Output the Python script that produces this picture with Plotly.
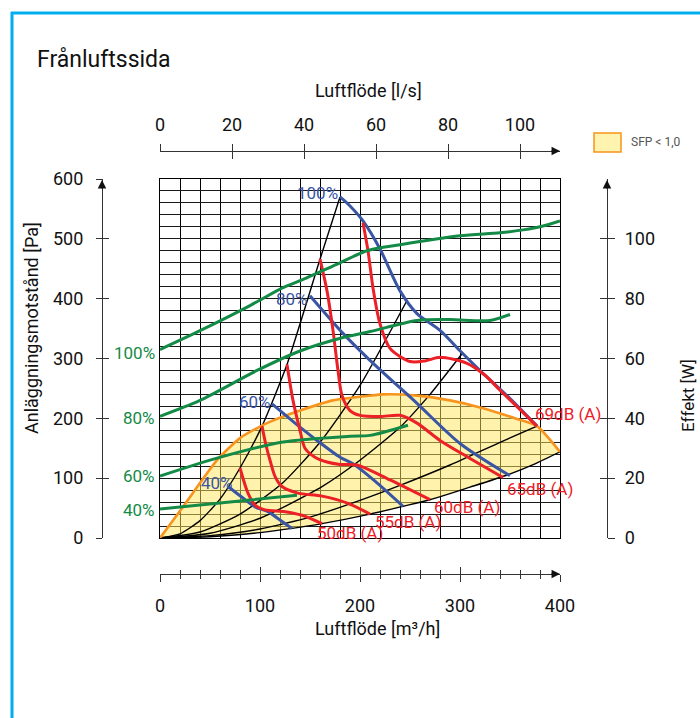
import plotly.graph_objects as go

W, H = 700, 718

# ---------------- data (x: Luftflöde m³/h, y: Pa, green in W) ----------------
# black system curves
sys_a_x = [0, 20, 40, 60, 80, 102, 127, 160, 180]
sys_a_y = [0, 7, 29, 65, 117, 187, 290, 466, 570]
sys_b_x = [0, 40, 80, 122, 160, 200, 247]
sys_b_y = [0, 10, 40, 91, 160, 255, 397]
sys_c_x = [0, 50, 100, 162, 200, 240, 270, 303]
sys_c_y = [0, 8, 33, 86, 130, 185, 240, 310]
sys_d_x = [0, 50, 100, 150, 195, 240, 290, 340, 377]
sys_d_y = [0, 4, 15, 35, 60, 88, 122, 160, 187]
sys_e_x = [0, 50, 100, 132, 162, 210, 243, 270, 310, 345, 375, 400]
sys_e_y = [0, 2, 9, 16, 24, 40, 53, 64, 85, 104, 124, 144]

# SFP < 1,0 upper boundary (orange)
sfp_x = [0, 23, 57, 80, 107, 140, 173, 210, 223, 257, 290, 323, 357, 377, 400]
sfp_y = [0, 52, 130, 167, 192, 213, 230, 238, 240, 238, 230, 217, 199, 187, 144]

# fan speed curves (blue, Pa)
fan100_x = [180, 190, 203, 220, 240, 257, 280, 300, 320, 350, 377]
fan100_y = [570, 555, 530, 483, 413, 375, 347, 313, 280, 233, 187]
fan80_x = [150, 183, 210, 257, 300, 350]
fan80_y = [405, 342, 297, 225, 158, 104]
fan60_x = [112, 135, 157, 180, 193, 215, 243]
fan60_y = [224, 192, 163, 135, 124, 95, 53]
fan40_x = [68, 82, 95, 108, 120, 132]
fan40_y = [86, 68, 52, 44, 30, 16]

# sound level curves (red, Pa)
db69_x = [203, 208, 213, 220, 230, 250, 265, 280, 307, 325, 340, 358, 377]
db69_y = [527, 480, 418, 358, 317, 295, 296, 302, 292, 272, 247, 218, 187]
db65_x = [160, 167, 173, 178, 182, 190, 200, 220, 240, 257, 280, 310, 343]
db65_y = [466, 413, 347, 280, 238, 213, 205, 203, 205, 192, 163, 133, 101]
db60_x = [127, 133, 140, 145, 155, 167, 180, 197, 230, 270]
db60_y = [290, 230, 180, 150, 135, 127, 123, 122, 97, 64]
db55_x = [102, 106, 110, 115, 122, 138, 162, 188, 210]
db55_y = [187, 155, 130, 103, 86, 75, 70, 58, 40]
db50_x = [80, 88, 95, 105, 125, 142, 162]
db50_y = [117, 75, 55, 47, 44, 38, 24]

# power curves (green, W)
p100_x = [0, 40, 90, 123, 140, 180, 207, 240, 300, 340, 363, 383, 400]
p100_y = [63, 69.3, 77.7, 83.7, 86, 92, 96, 98, 101, 102, 103, 104.3, 106]
p80_x = [0, 40, 97, 140, 183, 210, 257, 290, 330, 350]
p80_y = [40.7, 46, 56, 62.5, 67, 69, 72.7, 73, 72.7, 74.7]
p60_x = [0, 57, 123, 190, 210, 248]
p60_y = [20.7, 26.7, 32.1, 34, 34.3, 37.7]
p40_x = [0, 90, 137]
p40_y = [9.7, 12.7, 14.3]

# labels
fan_labels = ["100%", "80%", "60%", "40%"]
fan_label_x = [180, 150, 113, 75]
fan_label_y = [577, 400, 227, 92]
pow_labels = ["100%", "80%", "60%", "40%"]
pow_label_y = [310, 200, 103, 47]
db_labels = ["69dB (A)", "65dB (A)", "60dB (A)", "55dB (A)", "50dB (A)"]
db_label_x = [373, 345, 272, 213, 155]
db_label_y = [208, 82, 52, 27, 8]

x_ticks_m3h = [0, 100, 200, 300, 400]
x_ticks_ls = [0, 20, 40, 60, 80, 100]
y_ticks_pa = [0, 100, 200, 300, 400, 500, 600]
y_ticks_w = [0, 20, 40, 60, 80, 100]

# ---------------- styling ----------------
FONT = "Roboto"
BLUE = "#3a55a4"
RED = "#ec2027"
GREEN = "#148a47"
ORANGE = "#f7941d"
AXC = "#333333"


def pxx(p):
    return p / W


def pxy(p):
    return 1 - p / H


fig = go.Figure()

# SFP area
fig.add_trace(go.Scatter(
    x=sfp_x + sys_e_x[::-1], y=sfp_y + sys_e_y[::-1],
    fill="toself", fillcolor="rgba(255,229,90,0.5)", line=dict(width=0),
    mode="lines", hoverinfo="skip", showlegend=False))

for cx, cy in [(sys_a_x, sys_a_y), (sys_b_x, sys_b_y), (sys_c_x, sys_c_y),
               (sys_d_x, sys_d_y), (sys_e_x, sys_e_y)]:
    fig.add_trace(go.Scatter(x=cx, y=cy, mode="lines",
                             line=dict(color="#000", width=1.4, shape="spline", smoothing=0.6),
                             showlegend=False, hoverinfo="skip"))

fig.add_trace(go.Scatter(x=sfp_x, y=sfp_y, mode="lines",
                         line=dict(color=ORANGE, width=2.6, shape="spline", smoothing=0.6),
                         showlegend=False))

for cx, cy in [(p100_x, p100_y), (p80_x, p80_y), (p60_x, p60_y), (p40_x, p40_y)]:
    fig.add_trace(go.Scatter(x=cx, y=cy, yaxis="y4", mode="lines",
                             line=dict(color=GREEN, width=3, shape="spline", smoothing=0.8),
                             showlegend=False))

for cx, cy in [(fan100_x, fan100_y), (fan80_x, fan80_y), (fan60_x, fan60_y), (fan40_x, fan40_y)]:
    fig.add_trace(go.Scatter(x=cx, y=cy, mode="lines",
                             line=dict(color=BLUE, width=3, shape="spline", smoothing=0.8),
                             showlegend=False))

for cx, cy in [(db69_x, db69_y), (db65_x, db65_y), (db60_x, db60_y), (db55_x, db55_y), (db50_x, db50_y)]:
    fig.add_trace(go.Scatter(x=cx, y=cy, mode="lines",
                             line=dict(color=RED, width=3, shape="spline", smoothing=0.8),
                             showlegend=False))

# empty traces so that every decorative axis is instantiated
for xa, ya in [("x2", "y"), ("x3", "y"), ("x4", "y"), ("x5", "y"),
               ("x", "y2"), ("x", "y3"), ("x", "y5")]:
    fig.add_trace(go.Scatter(x=[], y=[], xaxis=xa, yaxis=ya, mode="lines",
                             showlegend=False, hoverinfo="skip"))

xdom = [pxx(160), pxx(560)]
ydom = [pxy(538), pxy(179)]
tickfont = dict(family=FONT, size=18, color="#111")

layout = dict(
    width=W, height=H,
    margin=dict(l=0, r=0, t=0, b=0),
    paper_bgcolor="white", plot_bgcolor="rgba(0,0,0,0)",
    showlegend=False,
    font=dict(family=FONT),
    xaxis=dict(domain=xdom, range=[0, 400], anchor="y", dtick=20, tick0=0,
               showgrid=True, gridcolor="#000", gridwidth=1.3,
               showticklabels=False, ticks="", zeroline=False,
               showline=True, mirror=True, linecolor="#000", linewidth=1.3, automargin=False),
    yaxis=dict(domain=ydom, range=[0, 600], anchor="x", dtick=20, tick0=0,
               showgrid=True, gridcolor="#1a1a1a", gridwidth=1.3,
               showticklabels=False, ticks="", zeroline=False,
               showline=True, mirror=True, linecolor="#000", linewidth=1.3, automargin=False),
    # bottom m3/h axis
    xaxis2=dict(domain=xdom, overlaying="x", anchor="free", position=pxy(574), side="bottom",
                range=[0, 400], tickvals=x_ticks_m3h, ticks="outside", ticklen=7, tickwidth=1.2,
                tickcolor=AXC, showline=True, linecolor=AXC, linewidth=1.2,
                minor=dict(dtick=20, tick0=0, ticks="outside", ticklen=4, tickcolor=AXC, tickwidth=1),
                showgrid=False, zeroline=False, tickfont=tickfont, automargin=False,
                ticklabelstandoff=8),
    xaxis3=dict(domain=xdom, overlaying="x", anchor="free", position=pxy(574), side="bottom",
                range=[0, 400], tickvals=x_ticks_m3h, ticks="inside", ticklen=7, tickwidth=1.2,
                tickcolor=AXC, showline=False, showticklabels=False,
                minor=dict(dtick=20, tick0=0, ticks="inside", ticklen=4, tickcolor=AXC, tickwidth=1),
                showgrid=False, zeroline=False, automargin=False),
    # top l/s axis
    xaxis4=dict(domain=xdom, overlaying="x", anchor="free", position=pxy(151), side="top",
                range=[0, 400 / 3.6], tickvals=x_ticks_ls, ticks="outside", ticklen=7, tickwidth=1.2,
                tickcolor=AXC, showline=True, linecolor=AXC, linewidth=1.2,
                showgrid=False, zeroline=False, tickfont=tickfont, automargin=False,
                ticklabelstandoff=6),
    xaxis5=dict(domain=xdom, overlaying="x", anchor="free", position=pxy(151), side="top",
                range=[0, 400 / 3.6], tickvals=x_ticks_ls, ticks="inside", ticklen=7, tickwidth=1.2,
                tickcolor=AXC, showline=False, showticklabels=False,
                showgrid=False, zeroline=False, automargin=False),
    # left Pa axis
    yaxis2=dict(domain=ydom, overlaying="y", anchor="free", position=pxx(102), side="left",
                range=[0, 600], tickvals=y_ticks_pa, ticks="outside", ticklen=6, tickwidth=1.2,
                tickcolor=AXC, showline=True, linecolor=AXC, linewidth=1.2,
                showgrid=False, zeroline=False, tickfont=tickfont, automargin=False,
                ticklabelstandoff=9),
    yaxis3=dict(domain=ydom, overlaying="y", anchor="free", position=pxx(102), side="left",
                range=[0, 600], tickvals=y_ticks_pa, ticks="inside", ticklen=6, tickwidth=1.2,
                tickcolor=AXC, showline=False, showticklabels=False,
                showgrid=False, zeroline=False, automargin=False),
    # right W axis (also the scale of the green power curves)
    yaxis4=dict(domain=ydom, overlaying="y", anchor="free", position=pxx(607), side="right",
                range=[0, 120], tickvals=y_ticks_w, ticks="outside", ticklen=7, tickwidth=1.2,
                tickcolor=AXC, showline=True, linecolor=AXC, linewidth=1.2,
                showgrid=False, zeroline=False, tickfont=tickfont, automargin=False,
                ticklabelstandoff=6),
    yaxis5=dict(domain=ydom, overlaying="y", anchor="free", position=pxx(607), side="right",
                range=[0, 120], tickvals=y_ticks_w, ticks="inside", ticklen=7, tickwidth=1.2,
                tickcolor=AXC, showline=False, showticklabels=False,
                showgrid=False, zeroline=False, automargin=False),
)
fig.update_layout(**layout)

ann = []
# titles
ann.append(dict(text="Frånluftssida", x=pxx(35), y=pxy(60), xref="paper", yref="paper",
                xanchor="left", yanchor="middle", showarrow=False,
                font=dict(family=FONT, size=23, color="#111")))
ann.append(dict(text="Luftflöde [l/s]", x=pxx(368), y=pxy(91), xref="paper", yref="paper",
                xanchor="center", yanchor="middle", showarrow=False,
                font=dict(family=FONT, size=18, color="#111")))
ann.append(dict(text="Luftflöde [m³/h]", x=pxx(377), y=pxy(628), xref="paper", yref="paper",
                xanchor="center", yanchor="middle", showarrow=False,
                font=dict(family=FONT, size=18, color="#111")))
ann.append(dict(text="Anläggningsmotstånd [Pa]", x=pxx(31), y=pxy(328), xref="paper", yref="paper",
                xanchor="center", yanchor="middle", showarrow=False, textangle=-90,
                font=dict(family=FONT, size=18, color="#111")))
ann.append(dict(text="Effekt [W]", x=pxx(688), y=pxy(396), xref="paper", yref="paper",
                xanchor="center", yanchor="middle", showarrow=False, textangle=-90,
                font=dict(family=FONT, size=17, color="#111")))
# legend
ann.append(dict(text="SFP < 1,0", x=pxx(629), y=pxy(142), xref="paper", yref="paper",
                xanchor="left", yanchor="middle", showarrow=False,
                font=dict(family=FONT, size=12, color="#555")))
# arrows
for (tx, ty, ax, ay) in [(102, 180, 0, 10), (607, 180, 0, 10), (560, 151, -10, 0), (560, 574, -10, 0)]:
    ann.append(dict(text="", x=pxx(tx), y=pxy(ty), xref="paper", yref="paper", showarrow=True,
                    ax=ax, ay=ay, arrowhead=2, arrowsize=1.3, arrowwidth=1.3, arrowcolor="#111",
                    standoff=0))

# curve labels
for t, lx, ly in zip(fan_labels, fan_label_x, fan_label_y):
    ann.append(dict(text=t, x=lx, y=ly, xref="x", yref="y", xanchor="right", yanchor="middle",
                    showarrow=False, font=dict(family=FONT, size=17, color=BLUE)))
for t, ly in zip(pow_labels, pow_label_y):
    ann.append(dict(text=t, x=0, y=ly, xref="x", yref="y", xanchor="right", yanchor="middle",
                    xshift=-3, showarrow=False, font=dict(family=FONT, size=17, color=GREEN)))
for t, lx, ly in zip(db_labels, db_label_x, db_label_y):
    ann.append(dict(text=t, x=lx, y=ly, xref="x", yref="y", xanchor="left", yanchor="middle",
                    showarrow=False, font=dict(family=FONT, size=17, color=RED)))

fig.update_layout(annotations=ann)

shapes = [
    dict(type="line", xref="paper", yref="paper", x0=pxx(12), x1=pxx(12), y0=pxy(12), y1=0,
         line=dict(color="#00aeef", width=3)),
    dict(type="line", xref="paper", yref="paper", x0=pxx(11), x1=1, y0=pxy(13), y1=pxy(13),
         line=dict(color="#00aeef", width=3)),
    dict(type="rect", xref="paper", yref="paper", x0=pxx(594), x1=pxx(621), y0=pxy(152), y1=pxy(133),
         fillcolor="#fff3b0", line=dict(color=ORANGE, width=1.5)),
]
fig.update_layout(shapes=shapes)

fig.write_html("out.html", config={"displayModeBar": False},
               post_script="document.body.style.margin='0px';document.body.style.overflow='hidden';")
